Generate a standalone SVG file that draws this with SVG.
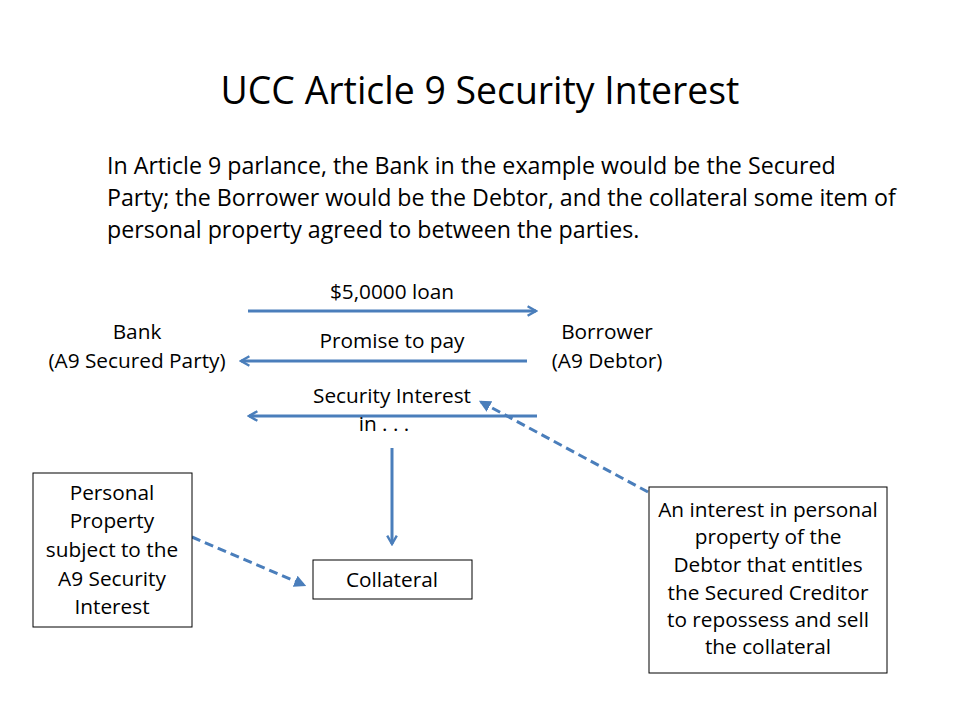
<svg xmlns="http://www.w3.org/2000/svg" width="960" height="720" viewBox="0 0 960 720">
<defs>
<marker id="ah" viewBox="0 0 10 10" refX="8" refY="5" markerWidth="4" markerHeight="4" orient="auto" markerUnits="strokeWidth">
<path d="M1,1 L8,5 L1,9" fill="none" stroke="#4a7ebb" stroke-width="2"/>
</marker>
<marker id="ahd" viewBox="0 0 10 10" refX="8" refY="5" markerWidth="4" markerHeight="4" orient="auto" markerUnits="strokeWidth">
<path d="M0,0 L10,5 L0,10 z" fill="#4a7ebb"/>
</marker>
</defs>
<style>
text{font-family:"Open Sans","Liberation Sans",sans-serif;fill:#000}
.t{font-size:37.4px}
.p{font-size:23.2px}
.l{font-size:20.8px;text-anchor:middle}
.box{fill:#fff;stroke:#000;stroke-width:1}
.arr{stroke:#4a7ebb;stroke-width:3;fill:none;marker-end:url(#ah)}
.dash{stroke:#4a7ebb;stroke-width:3;fill:none;stroke-dasharray:9,5;marker-end:url(#ahd)}
</style>
<rect width="960" height="720" fill="#fff"/>
<g id="title"><text class="t" x="480" y="104" text-anchor="middle">UCC Article 9 Security Interest</text></g>
<g id="paragraph">
<text class="p" x="107" y="174">In Article 9 parlance, the Bank in the example would be the Secured</text>
<text class="p" x="107" y="206">Party; the Borrower would be the Debtor, and the collateral some item of</text>
<text class="p" x="107" y="238">personal property agreed to between the parties.</text>
</g>
<g id="connectors">
<line class="arr" x1="248" y1="311" x2="536" y2="311"/>
<line class="arr" x1="527" y1="361" x2="241" y2="361"/>
<line class="arr" x1="537" y1="416" x2="249" y2="416"/>
<line class="arr" x1="392" y1="448" x2="392" y2="544"/>
<line class="dash" x1="192" y1="537" x2="304" y2="585"/>
<line class="dash" x1="648" y1="492" x2="481" y2="402"/>
</g>
<g id="label-loan"><text class="l" x="392" y="299">$5,0000 loan</text></g>
<g id="label-promise"><text class="l" x="392" y="348">Promise to pay</text></g>
<g id="label-security"><text class="l" x="392" y="403">Security Interest</text><text class="l" x="384" y="431">in . . .</text></g>
<g id="bank"><text class="l" x="137" y="339">Bank</text><text class="l" x="137" y="368">(A9 Secured Party)</text></g>
<g id="borrower"><text class="l" x="607" y="339">Borrower</text><text class="l" x="607" y="368">(A9 Debtor)</text></g>
<g id="personal-property">
<rect class="box" x="33" y="473" width="159" height="154"/>
<text class="l" x="112" y="500">Personal</text>
<text class="l" x="112" y="528">Property</text>
<text class="l" x="112" y="557">subject to the</text>
<text class="l" x="112" y="586">A9 Security</text>
<text class="l" x="112" y="614">Interest</text>
</g>
<g id="collateral">
<rect class="box" x="313" y="560" width="159" height="39"/>
<text class="l" x="392" y="587">Collateral</text>
</g>
<g id="definition">
<rect class="box" x="649" y="487" width="238" height="186"/>
<text class="l" x="768" y="517">An interest in personal</text>
<text class="l" x="768" y="544">property of the</text>
<text class="l" x="768" y="572">Debtor that entitles</text>
<text class="l" x="768" y="600">the Secured Creditor</text>
<text class="l" x="768" y="627">to repossess and sell</text>
<text class="l" x="768" y="654">the collateral</text>
</g>
</svg>
